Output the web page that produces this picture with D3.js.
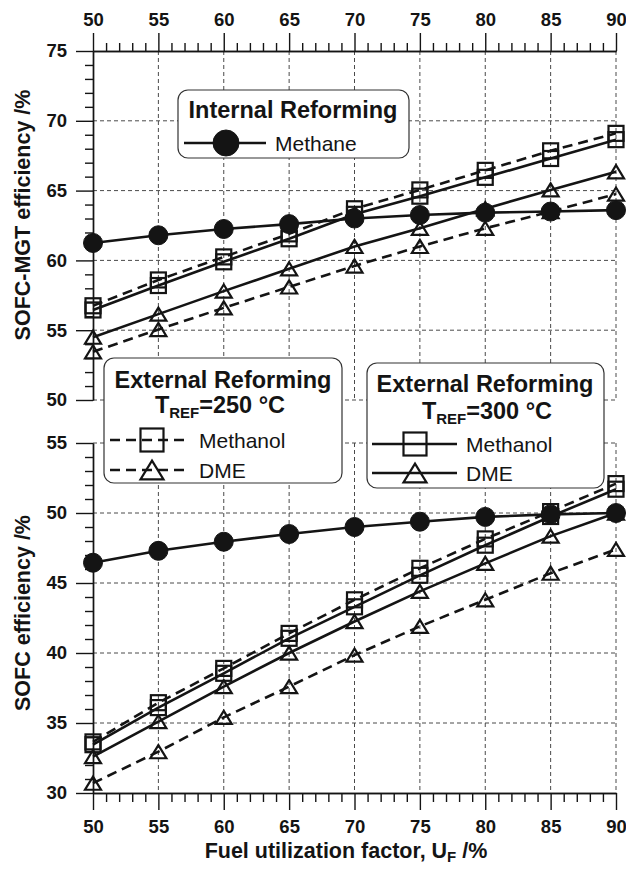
<!DOCTYPE html>
<html>
<head>
<meta charset="utf-8">
<script src="https://cdn.jsdelivr.net/npm/d3@7"></script>
<style>
body { margin: 0; background: #fff; }
svg text { font-family: "Liberation Sans", Arial, Helvetica, sans-serif; }
</style>
</head>
<body>
<div id="chart"></div>
<script>
// fuel utilization factor (x)
var uf = [50, 55, 60, 65, 70, 75, 80, 85, 90];

// SOFC-MGT efficiency (top panel)
var topMethane     = [61.25, 61.8, 62.25, 62.6, 63.0, 63.25, 63.42, 63.5, 63.6];
var topMethanol300 = [56.45, 58.2, 59.9, 61.55, 63.3, 64.6, 65.95, 67.3, 68.65];
var topMethanol250 = [56.75, 58.6, 60.25, 61.9, 63.7, 65.05, 66.45, 67.85, 69.1];
var topDME300      = [54.5, 56.15, 57.8, 59.4, 61.0, 62.3, 63.7, 65.05, 66.35];
var topDME250      = [53.45, 55.05, 56.6, 58.1, 59.6, 61.0, 62.3, 63.5, 64.75];

// SOFC efficiency (bottom panel)
var botMethane     = [46.45, 47.3, 47.95, 48.5, 49.0, 49.38, 49.72, 49.9, 50.0];
var botMethanol300 = [33.45, 36.1, 38.55, 41.05, 43.3, 45.55, 47.7, 49.75, 51.7];
var botMethanol250 = [33.65, 36.45, 38.9, 41.4, 43.8, 46.05, 48.15, 50.1, 52.1];
var botDME300      = [32.6, 35.1, 37.6, 40.0, 42.25, 44.4, 46.4, 48.35, 50.0];
var botDME250      = [30.7, 32.95, 35.4, 37.6, 39.85, 41.9, 43.8, 45.7, 47.4];

var xTicks = [50, 55, 60, 65, 70, 75, 80, 85, 90];
var yTopTicks = [50, 55, 60, 65, 70, 75];
var yBotTicks = [30, 35, 40, 45, 50, 55];

var width = 626, height = 870;
var ink = "#141414";

var svg = d3.select("#chart").append("svg")
    .attr("width", width)
    .attr("height", height);

var x = d3.scaleLinear().domain([50, 90]).range([93, 616]);
var yTop = d3.scaleLinear().domain([50, 75]).range([400, 51]);
var yBot = d3.scaleLinear().domain([30, 55]).range([793, 443]);

function minorTicks(lo, hi) {
	var t = [];
	for (var v = lo; v <= hi; v++) { if (v % 5 != 0) t.push(v); }
	return t;
}

// dashed grid for one panel
function drawGrid(y, yTicks, skip) {
	var g = svg.append("g").attr("class", "grid")
	    .attr("stroke", "#4a4a4a")
	    .attr("stroke-width", 1)
	    .attr("stroke-dasharray", "4,3");
	var r = y.range();
	g.selectAll("line.v").data(xTicks.slice(1)).enter().append("line")
	    .attr("x1", function(d) { return x(d); })
	    .attr("x2", function(d) { return x(d); })
	    .attr("y1", r[1]).attr("y2", r[0]);
	g.selectAll("line.h").data(yTicks.filter(function(d) { return d != skip; })).enter().append("line")
	    .attr("x1", x(50)).attr("x2", x(90))
	    .attr("y1", function(d) { return y(d); })
	    .attr("y2", function(d) { return y(d); });
}

drawGrid(yTop, yTopTicks, 75);
drawGrid(yBot, yBotTicks, 30);

function styleAxis(g, fs) {
	g.attr("font-size", fs).attr("font-weight", "bold").attr("font-family", null);
	g.selectAll("path, line").attr("stroke", ink).attr("stroke-width", 1.4);
	g.selectAll("text").attr("fill", ink);
}

// top x axis
var gxt = svg.append("g").attr("transform", "translate(0," + yTop(75) + ")")
    .call(d3.axisTop(x).tickValues(xTicks).tickSize(18).tickSizeOuter(0).tickPadding(7));
styleAxis(gxt, 18.5);
var gxtm = svg.append("g").attr("transform", "translate(0," + yTop(75) + ")")
    .call(d3.axisTop(x).tickValues(minorTicks(50, 90)).tickSize(8).tickSizeOuter(0).tickFormat(""));
styleAxis(gxtm, 10);

// bottom x axis
var gxb = svg.append("g").attr("transform", "translate(0," + yBot(30) + ")")
    .call(d3.axisBottom(x).tickValues(xTicks).tickSize(17).tickSizeOuter(0).tickPadding(10));
styleAxis(gxb, 18.5);
var gxbm = svg.append("g").attr("transform", "translate(0," + yBot(30) + ")")
    .call(d3.axisBottom(x).tickValues(minorTicks(50, 90)).tickSize(9).tickSizeOuter(0).tickFormat(""));
styleAxis(gxbm, 10);

// y axes
function yAxis(y, ticks, lo, hi) {
	var g = svg.append("g").attr("transform", "translate(" + x(50) + ",0)")
	    .call(d3.axisLeft(y).tickValues(ticks).tickSize(17).tickSizeOuter(0).tickPadding(9));
	styleAxis(g, 18.5);
	var gm = svg.append("g").attr("transform", "translate(" + x(50) + ",0)")
	    .call(d3.axisLeft(y).tickValues(minorTicks(lo, hi)).tickSize(8).tickSizeOuter(0).tickFormat(""));
	styleAxis(gm, 10);
}
yAxis(yTop, yTopTicks, 50, 75);
yAxis(yBot, yBotTicks, 30, 55);

// axis titles
svg.append("text")
    .attr("transform", "translate(30," + 215 + ") rotate(-90)")
    .attr("text-anchor", "middle")
    .attr("font-size", 21.5).attr("font-weight", "bold").attr("fill", ink)
    .text("SOFC-MGT efficiency /%");
svg.append("text")
    .attr("transform", "translate(30," + 613 + ") rotate(-90)")
    .attr("text-anchor", "middle")
    .attr("font-size", 21.5).attr("font-weight", "bold").attr("fill", ink)
    .text("SOFC efficiency /%");
var xt = svg.append("text")
    .attr("x", 346).attr("y", 858)
    .attr("text-anchor", "middle")
    .attr("font-size", 21.5).attr("font-weight", "bold").attr("fill", ink);
xt.append("tspan").text("Fuel utilization factor, U");
xt.append("tspan").attr("font-size", 15).attr("dy", 4).text("F");
xt.append("tspan").attr("dy", -4).text(" /%");

// legend boxes (drawn over the grid)
function box(x0, y0, x1, y1) {
	svg.append("rect")
	    .attr("x", x0).attr("y", y0)
	    .attr("width", x1 - x0).attr("height", y1 - y0)
	    .attr("rx", 10).attr("ry", 10)
	    .attr("fill", "#fff").attr("stroke", "#333").attr("stroke-width", 1.2);
}

function marker(g, type, cx, cy, s) {
	if (type == "circle") {
		g.append("circle").attr("cx", cx).attr("cy", cy).attr("r", s / 2)
		    .attr("fill", ink).attr("stroke", ink).attr("stroke-width", 1);
	} else if (type == "square") {
		g.append("rect").attr("x", cx - s / 2).attr("y", cy - s / 2)
		    .attr("width", s).attr("height", s)
		    .attr("fill", "none").attr("stroke", ink).attr("stroke-width", 2.2);
	} else {
		var h = s * 0.82;
		g.append("path")
		    .attr("d", "M" + cx + "," + (cy - h / 2) + " L" + (cx + s / 2) + "," + (cy + h / 2) +
		        " L" + (cx - s / 2) + "," + (cy + h / 2) + " Z")
		    .attr("fill", "none").attr("stroke", ink).attr("stroke-width", 2.2)
		    .attr("stroke-linejoin", "miter");
	}
}

function legendRow(x0, x1, xm, y, type, dashed, size, label) {
	var g = svg.append("g");
	g.append("line").attr("x1", x0).attr("x2", x1).attr("y1", y).attr("y2", y)
	    .attr("stroke", ink).attr("stroke-width", 2.6)
	    .attr("stroke-dasharray", dashed ? "10,6" : null);
	marker(g, type, xm, y, size);
	g.append("text").attr("x", x1 + 9).attr("y", y).attr("dy", "0.36em")
	    .attr("font-size", 21).attr("fill", ink).text(label);
}

function tref(cx, y, temp) {
	var t = svg.append("text").attr("x", cx).attr("y", y)
	    .attr("text-anchor", "middle")
	    .attr("font-size", 23.5).attr("font-weight", "bold").attr("fill", ink);
	t.append("tspan").text("T");
	t.append("tspan").attr("font-size", 15).attr("dy", 5).text("REF");
	t.append("tspan").attr("dy", -5).text("=" + temp + " \u00b0C");
}

// Internal reforming box
box(178, 90, 409, 158);
svg.append("text").attr("x", 293).attr("y", 118).attr("text-anchor", "middle")
    .attr("font-size", 23.5).attr("font-weight", "bold").attr("fill", ink)
    .text("Internal Reforming");
legendRow(184, 266, 226, 143, "circle", false, 26, "Methane");

// External reforming 250 C
box(104, 358, 342, 483);
svg.append("text").attr("x", 223).attr("y", 388).attr("text-anchor", "middle")
    .attr("font-size", 23.5).attr("font-weight", "bold").attr("fill", ink)
    .text("External Reforming");
tref(220, 413, 250);
legendRow(110, 190, 152, 440, "square", true, 23, "Methanol");
legendRow(110, 190, 152, 470, "triangle", true, 23, "DME");

// External reforming 300 C
box(367, 363, 604, 488);
svg.append("text").attr("x", 485).attr("y", 392).attr("text-anchor", "middle")
    .attr("font-size", 23.5).attr("font-weight", "bold").attr("fill", ink)
    .text("External Reforming");
tref(487, 419, 300);
legendRow(372, 457, 415, 444, "square", false, 23, "Methanol");
legendRow(372, 457, 415, 473, "triangle", false, 23, "DME");

// data series
var series = [
	{y: yTop, values: topMethanol250, type: "square", dashed: true},
	{y: yTop, values: topMethanol300, type: "square", dashed: false},
	{y: yTop, values: topDME250, type: "triangle", dashed: true},
	{y: yTop, values: topDME300, type: "triangle", dashed: false},
	{y: yTop, values: topMethane, type: "circle", dashed: false},
	{y: yBot, values: botMethanol250, type: "square", dashed: true},
	{y: yBot, values: botMethanol300, type: "square", dashed: false},
	{y: yBot, values: botDME250, type: "triangle", dashed: true},
	{y: yBot, values: botDME300, type: "triangle", dashed: false},
	{y: yBot, values: botMethane, type: "circle", dashed: false}
];

var gData = svg.append("g");
series.forEach(function(s) {
	var pts = uf.map(function(u, i) { return [u, s.values[i]]; });
	var line = d3.line()
	    .x(function(d) { return x(d[0]); })
	    .y(function(d) { return s.y(d[1]); });
	gData.append("path").datum(pts)
	    .attr("d", line)
	    .attr("fill", "none").attr("stroke", ink).attr("stroke-width", 2.6)
	    .attr("stroke-dasharray", s.dashed ? "10,6" : null);
});
series.forEach(function(s) {
	var size = s.type == "circle" ? 19 : (s.type == "square" ? 15 : 16);
	uf.forEach(function(u, i) {
		marker(gData, s.type, x(u), s.y(s.values[i]), size);
	});
});
</script>
</body>
</html>
